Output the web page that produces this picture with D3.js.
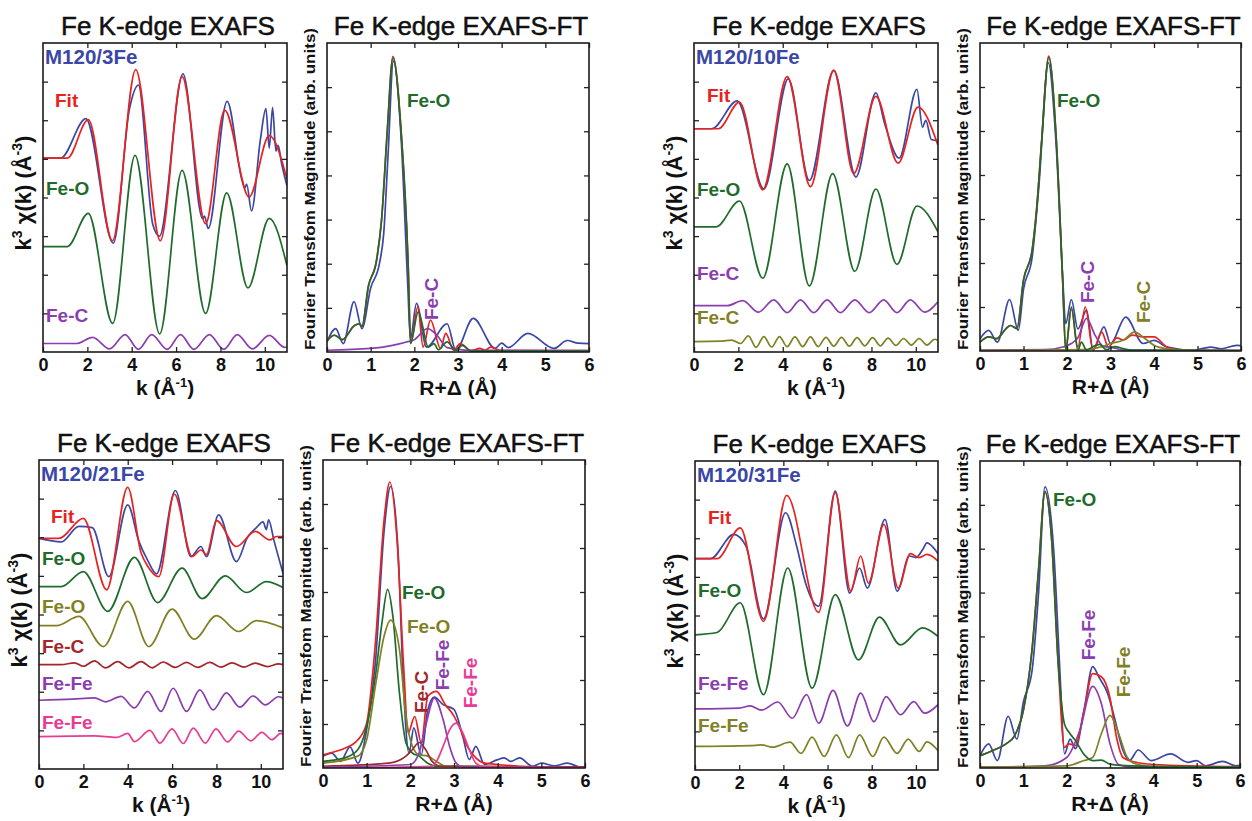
<!DOCTYPE html>
<html>
<head>
<meta charset="utf-8">
<script src="https://cdn.jsdelivr.net/npm/d3@7"></script>
<style>
  body { margin: 0; background: #fff; }
  svg { display: block; font-family: "Liberation Sans", Arial, sans-serif; }
</style>
</head>
<body>
<div id="chart"></div>
<script>
const WIDTH = 1252;
const HEIGHT = 821;

// axis ticks
const kTicks = [0, 2, 4, 6, 8, 10];
const rTicks = [0, 1, 2, 3, 4, 5, 6];
const chiYTicks = [1, 2, 3, 4, 5, 6, 7];
const ftYTicks = [1, 2, 3, 4, 5, 6];

// ---- M120/3Fe : k3 chi(k), offset curves ----
const fe3Data = [[0,5.02],[0.8,5.02],[1.93,6.04],[3.17,2.82],[3.9,6.3],[4.3,6.91],[4.95,3.3],[5.25,3.0],[6.31,7.2],[7.2,3.45],[7.28,3.52],[7.45,3.2],[8.3,6.49],[8.95,4.5],[9.1,4.25],[9.18,4.35],[9.4,3.65],[9.8,5.5],[10.05,6.3],[10.2,5.28],[10.35,6.33],[10.5,5.2],[10.6,5.35],[10.75,4.9],[11,4.3]];
const fe3Fit = [[0,5.02],[1.1,5.02],[2.04,6.02],[3.13,2.88],[4.18,7.31],[5.29,2.88],[6.27,7.13],[7.33,3.32],[8.19,6.26],[9.29,4.01],[10.2,5.6],[11,4.48]];
const fe3FeO = [[0,2.73],[1.1,2.73],[2.04,3.59],[3.14,0.74],[4.15,5.09],[5.26,0.47],[6.27,4.7],[7.33,1.0],[8.28,4.12],[9.24,1.66],[10.2,3.46],[11,2.23]];
const fe3FeC = [[0,0.22],[1.5,0.22],[2.24,0.38],[3.0,0.08],[3.7,0.45],[4.3,0.07],[4.9,0.45],[5.6,0.07],[6.2,0.45],[6.8,0.07],[7.5,0.45],[8.15,0.07],[8.76,0.45],[9.44,0.08],[10.2,0.43],[10.9,0.12],[11,0.13]];

// ---- M120/3Fe : FT magnitude ----
const fe3FtData = [[0,0.23],[0.2,0.53],[0.37,0.19],[0.62,1.14],[0.8,0.53],[1.0,1.45],[1.2,2.0],[1.3,2.7],[1.4,4.5],[1.52,6.59],[1.7,4.8],[1.85,1.5],[1.91,0.3],[2.05,1.1],[2.28,0.11],[2.75,0.64],[2.95,0.04],[3.35,0.76],[3.85,0.08],[4.0,0.2],[4.15,0.1],[4.6,0.42],[5.2,0.08],[5.5,0.26],[5.75,0.2],[6,0.19]];
const fe3FtFit = [[0,0.25],[0.17,0.38],[0.35,0.28],[0.63,0.6],[0.74,0.64],[0.8,0.58],[0.95,1.5],[1.13,2.05],[1.25,3.0],[1.38,5.0],[1.51,6.7],[1.7,4.96],[1.86,1.93],[1.92,0.2],[2.08,1.02],[2.2,0.11],[2.37,0.72],[2.6,0.08],[2.72,0.42],[2.9,0.04],[3.05,0.19],[3.3,0.03],[3.5,0.08],[3.62,0.04],[3.75,0.11],[4.0,0.03],[6,0.03]];
const fe3FtFeO = [[0,0.25],[0.17,0.38],[0.35,0.28],[0.63,0.6],[0.74,0.64],[0.8,0.58],[0.95,1.5],[1.13,2.05],[1.25,3.0],[1.38,5.0],[1.51,6.66],[1.7,4.96],[1.86,1.93],[1.91,0.19],[2.09,0.91],[2.32,0.11],[2.45,0.19],[2.55,0.05],[2.75,0.23],[2.95,0.04],[3.1,0.15],[3.3,0.02],[6,0.02]];
const fe3FtFeC = [[0,0.04],[1.0,0.08],[1.5,0.15],[1.8,0.22],[2.0,0.28],[2.3,0.53],[2.5,0.4],[2.75,0.1],[3.0,0.06],[3.3,0.04],[6,0.03]];

// ---- M120/10Fe : k3 chi(k) ----
const fe10Data = [[0,5.78],[0.8,5.78],[1.95,6.5],[3.15,4.22],[4.25,7.07],[5.2,4.44],[6.3,7.29],[7.3,4.53],[8.2,6.71],[8.6,5.9],[9.25,5.02],[10.05,6.8],[10.3,5.82],[10.45,6.0],[10.7,5.5],[11,5.47]];
const fe10Fit = [[0,5.78],[1.1,5.78],[2.05,6.47],[3.1,4.2],[4.2,7.13],[5.25,4.28],[6.3,7.29],[7.2,4.62],[8.2,6.62],[9.2,4.89],[10.1,6.34],[11,5.35]];
const fe10FeO = [[0,3.24],[1.0,3.24],[2.05,3.91],[3.1,1.91],[4.2,4.87],[5.2,1.71],[6.25,4.62],[7.25,2.09],[8.2,4.22],[9.15,2.27],[10.05,3.78],[11,3.11]];
const fe10FeC = [[0,1.2],[1.5,1.2],[2.2,1.33],[2.9,1.03],[3.6,1.35],[4.2,1.02],[4.8,1.35],[5.4,1.02],[6.0,1.35],[6.6,1.02],[7.25,1.35],[7.9,1.02],[8.55,1.35],[9.15,1.02],[9.75,1.35],[10.4,1.03],[11,1.3]];
const fe10FeC2 = [[0,0.27],[1.2,0.28],[1.7,0.31],[2.1,0.22],[2.45,0.42],[2.8,0.12],[3.15,0.4],[3.5,0.13],[3.85,0.4],[4.2,0.14],[4.55,0.39],[4.9,0.14],[5.25,0.39],[5.6,0.14],[5.95,0.38],[6.3,0.15],[6.65,0.38],[7.0,0.15],[7.35,0.37],[7.7,0.16],[8.05,0.37],[8.4,0.16],[8.75,0.36],[9.1,0.17],[9.45,0.35],[9.8,0.18],[10.15,0.35],[10.5,0.18],[10.85,0.33],[11,0.3]];

// ---- M120/10Fe : FT magnitude ----
const fe10FtData = [[0,0.28],[0.2,0.47],[0.4,0.2],[0.68,1.17],[0.88,0.47],[1.0,1.4],[1.2,2.14],[1.35,3.7],[1.57,6.55],[1.75,4.7],[1.9,1.7],[1.97,0.62],[2.1,1.17],[2.25,0.5],[2.45,0.93],[2.6,0.02],[2.85,0.55],[3.0,0.17],[3.35,0.77],[3.75,0.17],[4.0,0.24],[4.3,0.09],[4.9,0.02],[5.3,0.09],[5.55,0.05],[5.9,0.13],[6,0.12]];
const fe10FtFit = [[0,0.2],[0.2,0.32],[0.38,0.28],[0.6,0.51],[0.7,0.58],[0.85,0.51],[1.0,1.61],[1.2,2.3],[1.3,3.2],[1.42,4.8],[1.58,6.7],[1.75,4.87],[1.9,1.61],[1.97,0.02],[2.1,0.96],[2.25,0.09],[2.42,1.0],[2.6,0.02],[2.8,0.43],[2.95,0.09],[3.15,0.3],[3.3,0.25],[3.5,0.36],[3.75,0.32],[4.0,0.32],[4.3,0.09],[4.6,0.02],[6,0.01]];
const fe10FtFeO = [[0,0.2],[0.2,0.32],[0.38,0.28],[0.6,0.51],[0.7,0.58],[0.85,0.51],[1.0,1.61],[1.2,2.3],[1.3,3.2],[1.42,4.8],[1.58,6.67],[1.75,4.87],[1.9,1.61],[1.97,0.02],[2.1,1.0],[2.25,0.02],[2.33,0.2],[2.45,0.02],[2.6,0.1],[2.75,0.15],[2.9,0.03],[3.1,0.1],[3.3,0.05],[3.5,0.02],[6,0.01]];
const fe10FtFeC = [[0,0.02],[1.5,0.03],[1.9,0.09],[2.1,0.17],[2.25,0.3],[2.45,0.74],[2.65,0.35],[2.85,0.1],[3.0,0.09],[3.3,0.02],[6,0.01]];
const fe10FtFeC2 = [[0,0.01],[2.4,0.03],[2.8,0.1],[3.0,0.17],[3.3,0.25],[3.55,0.43],[3.8,0.28],[4.0,0.13],[4.3,0.05],[5,0.01],[6,0.01]];

// ---- M120/21Fe : k3 chi(k) ----
const fe21Data = [[0,5.97],[1.0,5.88],[1.8,6.28],[2.4,6.25],[3.15,4.98],[4.0,6.84],[4.5,5.9],[4.9,5.4],[5.3,5.05],[6.15,7.21],[6.85,5.5],[7.3,5.76],[7.55,5.5],[8.1,6.58],[8.9,5.37],[9.4,6.0],[9.8,6.25],[10.1,6.4],[10.25,6.2],[10.35,6.45],[10.6,5.9],[11,5.07]];
const fe21Fit = [[0,5.97],[0.9,5.97],[2.0,6.49],[3.05,4.64],[4.0,7.29],[4.6,5.6],[4.9,5.25],[5.4,4.98],[6.1,7.12],[6.9,5.5],[7.3,5.67],[7.55,5.55],[8.0,6.43],[8.9,5.76],[9.75,6.15],[10.4,5.93],[10.7,6.02],[11,6.02]];
const fe21FeO = [[0,4.72],[1.0,4.72],[2.0,5.11],[3.1,4.08],[4.3,5.48],[5.35,4.31],[6.45,5.2],[7.35,4.41],[8.4,5.0],[9.35,4.57],[10.25,4.85],[11,4.7]];
const fe21FeO2 = [[0,3.71],[0.8,3.71],[1.8,3.95],[2.9,3.17],[4.0,4.34],[4.95,3.17],[6.0,4.14],[7.0,3.36],[8.0,3.97],[9.0,3.56],[9.8,3.84],[11,3.65]];
const fe21FeC = [[0,2.7],[1.0,2.7],[1.6,2.75],[2.0,2.66],[2.5,2.8],[3.0,2.62],[3.55,2.78],[4.05,2.62],[4.6,2.78],[5.1,2.62],[5.6,2.77],[6.15,2.63],[6.65,2.76],[7.15,2.63],[7.7,2.76],[8.2,2.64],[8.7,2.75],[9.25,2.64],[9.75,2.74],[10.3,2.65],[10.8,2.72],[11,2.7]];
const fe21FeFe = [[0,1.78],[1.5,1.81],[2.5,1.84],[3.0,1.74],[3.7,1.88],[4.3,1.58],[4.9,2.01],[5.5,1.49],[6.05,2.09],[6.65,1.49],[7.25,2.05],[7.85,1.53],[8.45,1.97],[9.05,1.6],[9.65,1.89],[10.2,1.66],[10.8,1.87],[11,1.83]];
const fe21FeFe2 = [[0,0.84],[2.5,0.86],[3.5,0.82],[4.0,0.92],[4.3,0.71],[5.0,1.0],[5.45,0.67],[6.0,1.04],[6.5,0.66],[6.96,1.06],[7.5,0.67],[7.98,1.04],[8.5,0.7],[9.0,0.98],[9.55,0.73],[10.05,0.95],[10.5,0.76],[10.9,0.92],[11,0.91]];

// ---- M120/21Fe : FT magnitude ----
const fe21FtData = [[0,0.27],[0.2,0.34],[0.4,0.15],[0.62,0.48],[0.8,0.11],[1.0,0.87],[1.2,2.4],[1.4,5.4],[1.55,6.4],[1.72,4.9],[1.85,1.7],[1.97,0.34],[2.08,0.91],[2.25,0.3],[2.4,1.32],[2.55,1.61],[2.75,1.44],[3.0,1.33],[3.2,0.72],[3.35,0.19],[3.5,0.49],[3.7,0.08],[4.0,0.19],[4.15,0.23],[4.3,0.15],[4.5,0.23],[4.8,0.04],[5.0,0.11],[5.3,0.05],[5.6,0.11],[5.9,0.02],[6,0.03]];
const fe21FtFit = [[0,0.3],[0.3,0.38],[0.5,0.45],[0.8,0.64],[1.0,1.02],[1.2,2.84],[1.4,5.65],[1.53,6.5],[1.7,5.12],[1.85,2.24],[1.95,0.8],[2.1,1.17],[2.25,0.57],[2.4,1.63],[2.6,1.74],[2.8,1.44],[3.0,1.18],[3.15,0.87],[3.3,0.5],[3.5,0.23],[3.7,0.11],[4.0,0.08],[4.5,0.04],[6,0.02]];
const fe21FtFeO = [[0,0.15],[0.5,0.23],[0.8,0.42],[1.0,0.95],[1.2,2.08],[1.35,3.3],[1.48,4.06],[1.6,3.45],[1.75,1.71],[1.9,0.57],[2.05,0.34],[2.2,0.27],[2.4,0.11],[2.6,0.04],[6,0.01]];
const fe21FtFeO2 = [[0,0.11],[0.8,0.27],[1.0,0.64],[1.2,1.86],[1.4,3.0],[1.55,3.36],[1.75,2.7],[1.9,1.17],[2.05,0.49],[2.2,0.3],[2.4,0.27],[2.6,0.15],[2.8,0.04],[6,0.01]];
const fe21FtFeC = [[0,0.04],[1.5,0.11],[1.9,0.27],[2.05,0.42],[2.2,0.58],[2.35,0.42],[2.5,0.15],[2.7,0.04],[6,0.02]];
const fe21FtFeFe = [[0,0.02],[2.0,0.08],[2.2,0.34],[2.35,0.95],[2.55,1.59],[2.75,1.1],[2.9,0.49],[3.05,0.11],[3.2,0.02],[6,0.01]];
const fe21FtFeFe2 = [[0,0.0],[2.5,0.04],[2.6,0.15],[2.75,0.49],[2.9,0.87],[3.05,1.02],[3.2,0.8],[3.35,0.42],[3.5,0.11],[3.7,0.02],[6,0.0]];

// ---- M120/31Fe : k3 chi(k) ----
const fe31Data = [[0,5.47],[0.7,5.47],[1.75,6.1],[2.3,5.8],[3.1,3.91],[4.1,6.66],[4.6,5.8],[5.0,4.85],[5.6,4.24],[6.35,7.22],[7.0,4.58],[7.45,5.23],[7.8,4.71],[8.6,6.49],[9.15,4.63],[9.7,5.54],[10.0,5.5],[10.3,5.7],[10.5,5.88],[10.8,5.75],[11,5.6]];
const fe31Fit = [[0,5.47],[1.0,5.47],[2.05,6.27],[3.1,3.85],[4.15,7.11],[5.6,4.08],[6.35,7.18],[7.05,4.63],[7.5,5.54],[7.85,4.84],[8.55,6.36],[9.2,4.71],[9.75,5.6],[10.15,5.5],[10.5,5.58],[11,5.41]];
const fe31FeO = [[0,3.5],[1.0,3.56],[2.05,4.33],[3.1,1.95],[4.2,5.23],[5.3,2.12],[6.35,4.54],[7.4,2.85],[8.35,3.96],[9.3,3.24],[10.3,3.68],[11,3.46]];
const fe31FeFe = [[0,1.58],[2.0,1.6],[2.5,1.66],[3.0,1.55],[3.75,1.76],[4.4,1.34],[5.05,1.95],[5.6,1.21],[6.25,2.06],[6.9,1.14],[7.5,1.99],[8.1,1.25],[8.65,1.9],[9.3,1.43],[9.9,1.77],[10.4,1.47],[11,1.69]];
const fe31FeFe2 = [[0,0.61],[2.5,0.63],[3.0,0.65],[3.5,0.59],[4.3,0.72],[4.8,0.43],[5.3,0.85],[5.85,0.35],[6.4,0.91],[6.95,0.32],[7.45,0.91],[8.05,0.35],[8.55,0.85],[9.15,0.43],[9.65,0.8],[10.15,0.48],[10.5,0.73],[11,0.5]];

// ---- M120/31Fe : FT magnitude ----
const fe31FtData = [[0,0.28],[0.2,0.55],[0.4,0.17],[0.65,1.18],[0.85,0.66],[1.0,1.5],[1.2,2.21],[1.35,3.97],[1.5,6.41],[1.7,4.98],[1.85,2.08],[1.95,0.32],[2.08,0.66],[2.2,0.44],[2.4,1.31],[2.6,2.31],[2.75,2.06],[2.95,1.69],[3.1,1.16],[3.3,0.4],[3.45,0.17],[3.65,0.41],[3.95,0.17],[4.4,0.32],[4.8,0.13],[5.0,0.17],[5.2,0.05],[5.6,0.15],[5.9,0.05],[6,0.06]];
const fe31FtFit = [[0,0.28],[0.3,0.4],[0.6,0.55],[0.8,0.74],[1.0,1.31],[1.2,2.69],[1.35,4.5],[1.5,6.28],[1.65,5.26],[1.8,2.46],[1.95,0.47],[2.05,0.55],[2.2,0.51],[2.4,1.31],[2.6,2.15],[2.8,2.08],[3.0,1.6],[3.15,0.7],[3.3,0.24],[3.6,0.13],[4.0,0.08],[6,0.03]];
const fe31FtFeO = [[0,0.28],[0.3,0.4],[0.6,0.55],[0.8,0.74],[1.0,1.31],[1.2,2.69],[1.35,4.5],[1.5,6.31],[1.65,5.26],[1.8,2.46],[1.95,1.0],[2.05,0.82],[2.2,0.63],[2.4,0.31],[2.6,0.17],[2.8,0.18],[3.0,0.09],[3.5,0.05],[6,0.02]];
const fe31FtFeFe = [[0,0.02],[1.5,0.05],[2.0,0.24],[2.3,0.85],[2.6,1.86],[2.8,1.47],[3.0,0.55],[3.2,0.08],[3.5,0.02],[6,0.01]];
const fe31FtFeFe2 = [[0,0.02],[2.0,0.05],[2.4,0.17],[2.6,0.24],[2.8,0.78],[3.0,1.2],[3.2,0.78],[3.4,0.24],[3.6,0.09],[4.0,0.03],[6,0.02]];

const BLUE = '#3b47a6';
const RED = '#e8231f';
const GREEN = '#1f6b2c';
const PURPLE = '#8a3eaf';
const OLIVE = '#808024';
const DARKRED = '#a3262a';
const PINK = '#ea3b94';

const panels = [
  { kind: 'chi', x0: 43, x1: 287, y0: 43, y1: 352,
    series: [[fe3Data, BLUE], [fe3Fit, RED], [fe3FeO, GREEN], [fe3FeC, PURPLE]],
    labels: [['M120/3Fe', BLUE, 2, 21, false, 20.5], ['Fit', RED, 12, 64], ['Fe-O', GREEN, 3, 152], ['Fe-C', PURPLE, 3, 279]] },
  { kind: 'ft', x0: 327, x1: 589, y0: 43, y1: 352,
    series: [[fe3FtData, BLUE], [fe3FtFit, RED], [fe3FtFeC, PURPLE], [fe3FtFeO, GREEN]],
    labels: [['Fe-O', GREEN, 80, 64], ['Fe-C', PURPLE, 104, 256, true]] },
  { kind: 'chi', x0: 694, x1: 938, y0: 43, y1: 352,
    series: [[fe10Data, BLUE], [fe10Fit, RED], [fe10FeO, GREEN], [fe10FeC, PURPLE], [fe10FeC2, OLIVE]],
    labels: [['M120/10Fe', BLUE, 2, 21, false, 20.5], ['Fit', RED, 13, 59], ['Fe-O', GREEN, 3, 153], ['Fe-C', PURPLE, 3, 237], ['Fe-C', OLIVE, 3, 281]] },
  { kind: 'ft', x0: 980, x1: 1241, y0: 43, y1: 351,
    series: [[fe10FtData, BLUE], [fe10FtFit, RED], [fe10FtFeC, PURPLE], [fe10FtFeC2, OLIVE], [fe10FtFeO, GREEN]],
    labels: [['Fe-O', GREEN, 77, 64], ['Fe-C', PURPLE, 107, 239, true], ['Fe-C', OLIVE, 163, 259, true]] },
  { kind: 'chi', x0: 39, x1: 283, y0: 460, y1: 769,
    series: [[fe21Data, BLUE], [fe21Fit, RED], [fe21FeO, GREEN], [fe21FeO2, OLIVE], [fe21FeC, DARKRED], [fe21FeFe, PURPLE], [fe21FeFe2, PINK]],
    labels: [['M120/21Fe', BLUE, 2, 21, false, 20.5], ['Fit', RED, 12, 63], ['Fe-O', GREEN, 3, 105], ['Fe-O', OLIVE, 3, 153], ['Fe-C', DARKRED, 3, 193], ['Fe-Fe', PURPLE, 3, 230], ['Fe-Fe', PINK, 3, 269]] },
  { kind: 'ft', x0: 323, x1: 585, y0: 460, y1: 768,
    series: [[fe21FtData, BLUE], [fe21FtFit, RED], [fe21FtFeO, GREEN], [fe21FtFeO2, OLIVE], [fe21FtFeC, DARKRED], [fe21FtFeFe, PURPLE], [fe21FtFeFe2, PINK]],
    labels: [['Fe-O', GREEN, 79, 139], ['Fe-O', OLIVE, 84, 173], ['Fe-C', DARKRED, 98, 232, true], ['Fe-Fe', PURPLE, 119, 205, true], ['Fe-Fe', PINK, 147, 223, true]] },
  { kind: 'chi', x0: 695, x1: 938, y0: 461, y1: 770,
    series: [[fe31Data, BLUE], [fe31Fit, RED], [fe31FeO, GREEN], [fe31FeFe, PURPLE], [fe31FeFe2, OLIVE]],
    labels: [['M120/31Fe', BLUE, 2, 21, false, 20.5], ['Fit', RED, 13, 63], ['Fe-O', GREEN, 3, 136], ['Fe-Fe', PURPLE, 3, 229], ['Fe-Fe', OLIVE, 3, 271]] },
  { kind: 'ft', x0: 980, x1: 1240, y0: 461, y1: 768,
    series: [[fe31FtData, BLUE], [fe31FtFit, RED], [fe31FtFeFe, PURPLE], [fe31FtFeFe2, OLIVE], [fe31FtFeO, GREEN]],
    labels: [['Fe-O', GREEN, 73, 45], ['Fe-Fe', PURPLE, 108, 174, true], ['Fe-Fe', OLIVE, 143, 211, true]] }
];

const svg = d3.select('#chart').append('svg')
  .attr('width', WIDTH)
  .attr('height', HEIGHT);

const defs = svg.append('defs');

function drawPanel(p, i) {
  const isChi = p.kind === 'chi';
  const x = d3.scaleLinear().domain(isChi ? [0, 11] : [0, 6]).range([p.x0, p.x1]);
  const y = d3.scaleLinear().domain(isChi ? [0, 8] : [0, 7]).range([p.y1, p.y0]);
  const g = svg.append('g');

  defs.append('clipPath').attr('id', 'clip' + i)
    .append('rect')
    .attr('x', p.x0).attr('y', p.y0)
    .attr('width', p.x1 - p.x0).attr('height', p.y1 - p.y0);

  const line = d3.line()
    .x(d => x(d[0]))
    .y(d => y(d[1]))
    .curve(d3.curveMonotoneX);

  g.append('g')
    .attr('clip-path', `url(#clip${i})`)
    .selectAll('path')
    .data(p.series)
    .join('path')
    .attr('d', s => line(s[0]))
    .attr('fill', 'none')
    .attr('stroke', s => s[1])
    .attr('stroke-width', 1.7)
    .attr('stroke-linejoin', 'round');

  // axes with inward ticks on all four sides
  const xt = isChi ? kTicks : rTicks;
  const yt = isChi ? chiYTicks : ftYTicks;
  const bottom = g.append('g')
    .attr('transform', `translate(0,${p.y1})`)
    .call(d3.axisBottom(x).tickValues(xt).tickSize(-5).tickPadding(6).tickFormat(d3.format('d')));
  const top = g.append('g')
    .attr('transform', `translate(0,${p.y0})`)
    .call(d3.axisTop(x).tickValues(xt.slice(1)).tickSize(-5).tickFormat(''));
  const left = g.append('g')
    .attr('transform', `translate(${p.x0},0)`)
    .call(d3.axisLeft(y).tickValues(yt).tickSize(-5).tickFormat(''));
  const right = g.append('g')
    .attr('transform', `translate(${p.x1},0)`)
    .call(d3.axisRight(y).tickValues(yt).tickSize(-5).tickFormat(''));

  [bottom, top, left, right].forEach(a => {
    a.select('.domain').remove();
    a.selectAll('line').attr('stroke', '#222').attr('stroke-width', 1.3);
  });
  bottom.selectAll('text')
    .attr('font-family', '"Liberation Sans", Arial, sans-serif')
    .attr('font-size', 18)
    .attr('font-weight', 'bold')
    .attr('fill', '#111');

  g.append('rect')
    .attr('x', p.x0).attr('y', p.y0)
    .attr('width', p.x1 - p.x0).attr('height', p.y1 - p.y0)
    .attr('fill', 'none')
    .attr('stroke', '#1b1b1b')
    .attr('stroke-width', 1.6);

  // title
  g.append('text')
    .attr('x', (p.x0 + p.x1) / 2 + 3)
    .attr('y', p.y0 - 8)
    .attr('text-anchor', 'middle')
    .attr('font-size', 26)
    .attr('fill', '#111')
    .attr('stroke', '#111')
    .attr('stroke-width', 0.5)
    .text(isChi ? 'Fe K-edge EXAFS' : 'Fe K-edge EXAFS-FT');

  // x axis title
  const xl = g.append('text')
    .attr('x', (p.x0 + p.x1) / 2)
    .attr('y', p.y1 + 43)
    .attr('text-anchor', 'middle')
    .attr('font-size', 21)
    .attr('font-weight', 'bold')
    .attr('fill', '#111');
  if (isChi) {
    xl.append('tspan').text('k (Å');
    xl.append('tspan').attr('font-size', 13).attr('dy', -8).text('-1');
    xl.append('tspan').attr('dy', 8).text(')');
  } else {
    xl.text('R+Δ (Å)');
  }

  // y axis title
  const cx = isChi ? p.x0 - 20 : p.x0 - 17;
  const cy = isChi ? p.y0 + 150 : p.y0 + 146;
  const yl = g.append('text')
    .attr('transform', `translate(${cx},${cy}) rotate(-90)`)
    .attr('text-anchor', 'middle')
    .attr('dy', '0.35em')
    .attr('font-weight', 'bold')
    .attr('fill', '#111');
  if (isChi) {
    yl.attr('font-size', 22);
    yl.append('tspan').text('k');
    yl.append('tspan').attr('font-size', 14).attr('dy', -9).text('3');
    yl.append('tspan').attr('dy', 9).text(' χ(k) (Å');
    yl.append('tspan').attr('font-size', 14).attr('dy', -9).text('-3');
    yl.append('tspan').attr('dy', 9).text(')');
  } else {
    yl.attr('font-size', 15)
      .attr('textLength', 322)
      .attr('lengthAdjust', 'spacingAndGlyphs')
      .text('Fourier Transfom Magnitude (arb. units)');
  }

  // curve labels
  p.labels.forEach(([text, color, dx, dy, rot, size]) => {
    const t = g.append('text')
      .attr('font-size', size || 19)
      .attr('font-weight', 'bold')
      .attr('fill', color)
      .text(text);
    if (rot) {
      t.attr('transform', `translate(${p.x0 + dx},${p.y0 + dy}) rotate(-90)`)
        .attr('text-anchor', 'middle')
        .attr('dy', '0.35em');
    } else {
      t.attr('x', p.x0 + dx).attr('y', p.y0 + dy);
    }
  });
}

panels.forEach(drawPanel);
</script>
</body>
</html>
